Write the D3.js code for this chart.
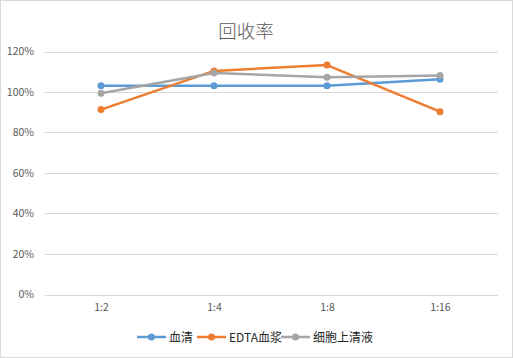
<!DOCTYPE html>
<html><head><meta charset="utf-8">
<script src="https://cdn.jsdelivr.net/npm/d3@7"></script>
<style>body{margin:0;background:#fff}svg{display:block}</style>
</head><body><svg id="c" width="513" height="358"></svg>
<script>
const categories = ["1:2","1:4","1:8","1:16"];
const seriesNames = ["血清","EDTA血浆","细胞上清液"];
const serum = [1.031,1.031,1.031,1.063];
const edta = [0.913,1.104,1.133,0.903];
const supernatant = [0.994,1.094,1.073,1.082];
const yTicks = [0,0.2,0.4,0.6,0.8,1.0,1.2];
const colors = ["#5b9bd5","#ed7d31","#a5a5a5"];
const series = [serum, edta, supernatant];

const svg = d3.select("#c");
const font = "'Noto Sans CJK SC', 'Noto Sans', sans-serif";
svg.append("rect").attr("x",0.5).attr("y",0.5).attr("width",512).attr("height",357)
  .attr("fill","#fff").attr("stroke","#d9d9d9");

const x = d3.scalePoint().domain(categories).range([101,440]);
const y = d3.scaleLinear().domain([0,1.2]).range([294.5,51.5]);

const grid = svg.append("g");
grid.selectAll("line").data(yTicks).join("line")
  .attr("x1",45).attr("x2",498)
  .attr("y1",d=>Math.round(y(d))+0.5).attr("y2",d=>Math.round(y(d))+0.5)
  .attr("stroke","#d9d9d9").attr("stroke-width",1);

const yAxis = d3.axisLeft(y).tickValues(yTicks).tickFormat(d3.format(".0%")).tickSize(0).tickPadding(6);
const ga = svg.append("g").attr("transform","translate(40,0)").call(yAxis);
ga.select(".domain").remove();
ga.selectAll("text").attr("font-family",font).attr("font-size",10.5).attr("fill","#595959");

const xAxis = d3.axisBottom(x).tickSize(0).tickPadding(0);
const gx = svg.append("g").attr("transform","translate(0,304)").call(xAxis);
gx.select(".domain").remove();
gx.selectAll("text").attr("font-family",font).attr("font-size",10.5).attr("fill","#595959");

const line = d3.line().x((d,i)=>x(categories[i])).y(d=>y(d));
series.forEach((s,k)=>{
  const g = svg.append("g");
  g.append("path").attr("d",line(s)).attr("fill","none").attr("stroke",colors[k])
    .attr("stroke-width",2.5).attr("stroke-linejoin","round").attr("stroke-linecap","round");
  g.selectAll("circle").data(s).join("circle")
    .attr("cx",(d,i)=>x(categories[i])).attr("cy",d=>y(d)).attr("r",3.5).attr("fill",colors[k]);
});

svg.append("text").attr("x",246).attr("y",38).attr("text-anchor","middle")
  .attr("font-family",font).attr("font-weight",300).attr("font-size",18.5).attr("fill","#595959").text("回收率");

// legend
const legX = [137,197,281];
const leg = svg.append("g");
seriesNames.forEach((n,k)=>{
  const lx = legX[k];
  leg.append("line").attr("x1",lx).attr("x2",lx+29).attr("y1",337).attr("y2",337)
    .attr("stroke",colors[k]).attr("stroke-width",2.5);
  leg.append("circle").attr("cx",lx+14.5).attr("cy",337).attr("r",3.5).attr("fill",colors[k]);
  leg.append("text").attr("x",lx+32).attr("y",341.5).attr("font-family",font).attr("font-size",12)
    .attr("fill","#262626").text(n);
});
</script></body></html>
